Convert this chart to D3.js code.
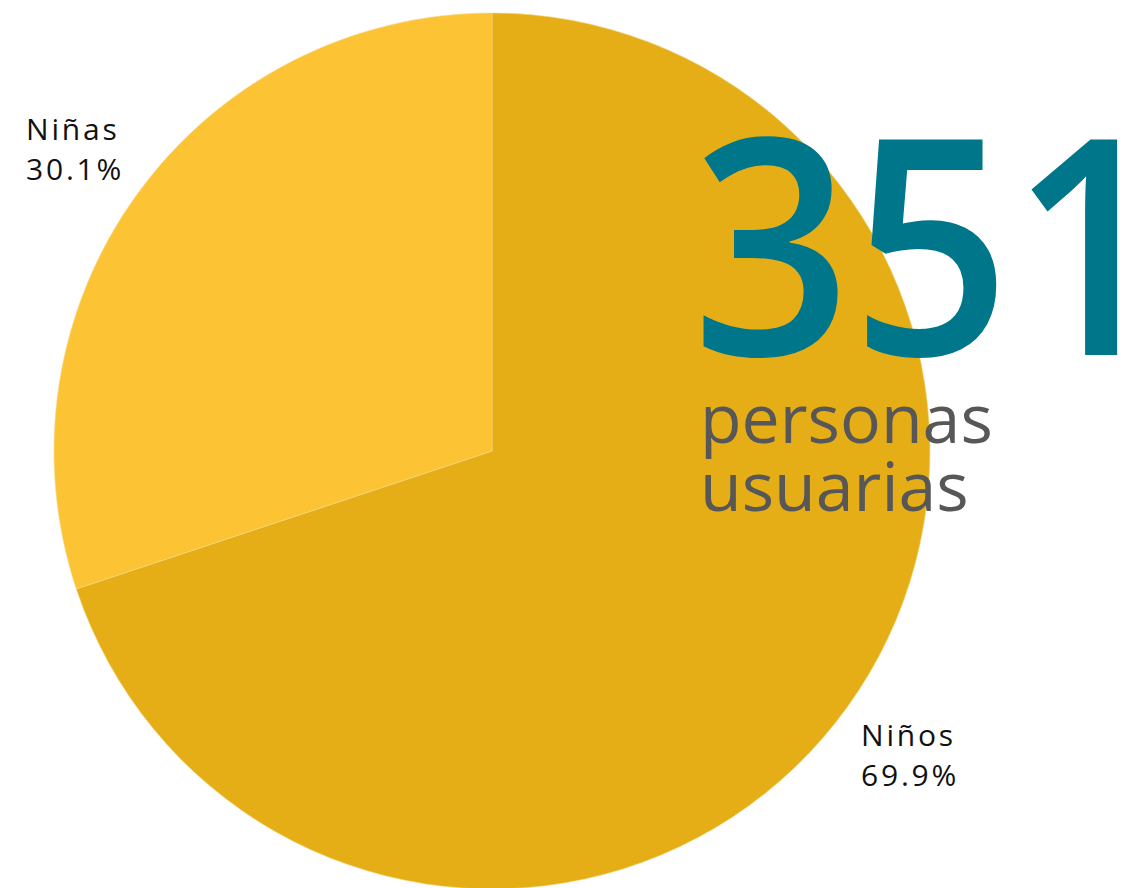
<!DOCTYPE html>
<html>
<head>
<meta charset="utf-8">
<script src="https://cdn.jsdelivr.net/npm/d3@7"></script>
<style>
  body { margin: 0; background: #fff; }
  svg { display: block; }
  .lbl { font-family: "Open Sans", sans-serif; font-size: 30px; letter-spacing: 2.8px; fill: #111; }
  .big { font-family: "Open Sans", sans-serif; font-weight: 600; fill: #00768a; }
  .sub { font-family: "Open Sans", sans-serif; font-size: 68px; fill: #575757; }
</style>
</head>
<body>
<div id="chart"></div>
<script>
// slices, in drawing order (clockwise from 12 o'clock)
var categories = ["Niños", "Niñas"];
var shares = [69.9, 30.1];
var colors = ["#e6ae16", "#fcc435"];
var total = 351;
var totalLines = ["personas", "usuarias"];

var width = 1123, height = 888;
var cx = 492, cy = 451, radius = 438;

var svg = d3.select("#chart").append("svg")
  .attr("width", width)
  .attr("height", height);

var pie = d3.pie().sort(null).value(function (d) { return d; });
var arc = d3.arc().innerRadius(0).outerRadius(radius);
var arcs = pie(shares);

var g = svg.append("g").attr("transform", "translate(" + cx + "," + cy + ")");
g.selectAll("path")
  .data(arcs)
  .enter().append("path")
  .attr("d", arc)
  .attr("fill", function (d, i) { return colors[i]; })
  .attr("stroke", "#f3d98a")
  .attr("stroke-width", 0.6);

// labels sit outside the pie, left-aligned
var labelPos = [[861, 746], [26, 140]];
arcs.forEach(function (d, i) {
  var t = svg.append("text")
    .attr("class", "lbl")
    .attr("x", labelPos[i][0])
    .attr("y", labelPos[i][1]);
  t.append("tspan").attr("x", labelPos[i][0]).text(categories[i]);
  t.append("tspan").attr("x", labelPos[i][0]).attr("dy", 40)
    .text(shares[i].toFixed(1) + "%");
});

// big total number, stretched to the reference width
svg.append("text")
  .attr("class", "big")
  .attr("x", 692)
  .attr("y", 355)
  .style("font-size", "302px")
  .attr("textLength", 478)
  .attr("lengthAdjust", "spacingAndGlyphs")
  .text(total);

var sub = svg.append("text").attr("class", "sub");
totalLines.forEach(function (line, i) {
  sub.append("tspan").attr("x", 700).attr("y", 443 + i * 68).text(line);
});
</script>
</body>
</html>
